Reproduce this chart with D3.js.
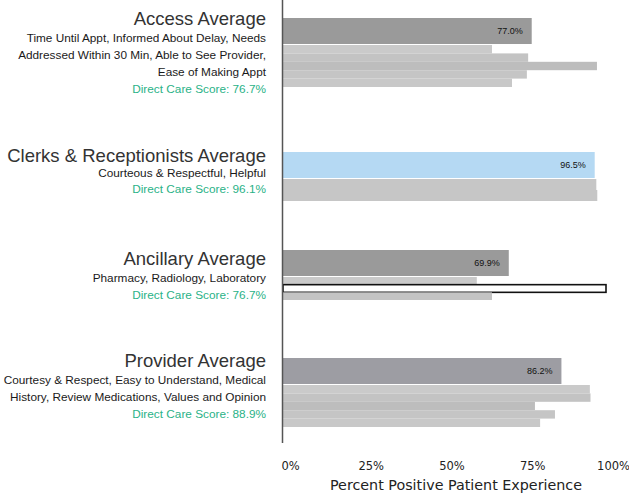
<!DOCTYPE html>
<html><head><meta charset="utf-8">
<script src="https://cdn.jsdelivr.net/npm/d3@7/dist/d3.min.js"></script>
<style>body{margin:0;background:#fff}svg{display:block}</style>
</head><body>
<svg id="c" width="629" height="493"></svg>
<script>
// ---- data ----
const categories = ["Access Average", "Clerks & Receptionists Average", "Ancillary Average", "Provider Average"];
const subtitleLines = [
  ["Time Until Appt, Informed About Delay, Needs", "Addressed Within 30 Min, Able to See Provider,", "Ease of Making Appt"],
  ["Courteous & Respectful, Helpful"],
  ["Pharmacy, Radiology, Laboratory"],
  ["Courtesy & Respect, Easy to Understand, Medical", "History, Review Medications, Values and Opinion"]
];
const directCareScores = [76.7, 96.1, 76.7, 88.9];
const averages = [77.0, 96.5, 69.9, 86.2];
const subItems = [
  ["Time Until Appt", "Informed About Delay", "Needs Addressed Within 30 Min", "Able to See Provider", "Ease of Making Appt"],
  ["Courteous & Respectful", "Helpful"],
  ["Pharmacy", "Radiology", "Laboratory"],
  ["Courtesy & Respect", "Easy to Understand", "Medical History", "Review Medications", "Values and Opinion"]
];
const subValues = [
  [64.7, 75.9, 97.2, 75.5, 70.9],
  [97.0, 97.3],
  [60.0, 100.0, 64.7],
  [95.0, 95.2, 78.0, 84.2, 79.6]
];
const outlinedItems = ["Radiology"];
const xTicks = [0, 25, 50, 75, 100];
const axisTitle = "Percent Positive Patient Experience";

// ---- layout ----
const svg = d3.select("#c");
const x = d3.scaleLinear().domain([0, 100]).range([283, 606]);
const groupTop = [18, 152, 250, 358];
const avgH = 26;
const subAreaH = [42, 22, 23, 42];
const labelRight = 266;
const titleBase = [25, 162, 265, 367];
const subBase = [42, 177, 282, 384];
const lineStep = [17, 16, 17, 17];
const FONT = "Liberation Sans, Arial, sans-serif";

categories.forEach((cat, gi) => {
  const top = groupTop[gi];
  // sub bars
  const yb = d3.scaleBand().domain(subItems[gi]).range([top + avgH + 1, top + avgH + 1 + subAreaH[gi]]);
  const greys = d3.scaleOrdinal().range(["#cacaca", "#c3c3c3", "#bdbdbd", "#c5c5c5", "#c8c8c8"]);
  svg.append("g").selectAll("rect").data(subItems[gi]).join("rect")
    .attr("x", x(0)).attr("y", d => yb(d))
    .attr("width", (d, i) => x(subValues[gi][i]) - x(0))
    .attr("height", yb.bandwidth())
    .attr("fill", d => outlinedItems.includes(d) ? "#fff" : (gi === 1 ? "#c6c6c6" : greys(d)))
    .attr("stroke", d => outlinedItems.includes(d) ? "#111" : "none")
    .attr("stroke-width", 1.6);
  // average bar
  svg.append("rect")
    .attr("x", x(0)).attr("y", top)
    .attr("width", x(averages[gi]) - x(0)).attr("height", avgH)
    .attr("fill", gi === 1 ? "#b5d9f3" : (gi === 3 ? "#9d9da3" : "#9a9a9a"));
  svg.append("text")
    .attr("x", x(averages[gi]) - 9).attr("y", top + avgH / 2 + 3)
    .attr("text-anchor", "end").attr("font-family", FONT)
    .attr("font-size", 9).attr("fill", "#111")
    .text(averages[gi].toFixed(1) + "%");

  // labels
  svg.append("text").attr("x", labelRight).attr("y", titleBase[gi])
    .attr("text-anchor", "end").attr("font-family", FONT)
    .attr("font-size", 18.5).attr("fill", "#333").text(cat);
  const lines = subtitleLines[gi];
  lines.forEach((ln, li) => {
    svg.append("text").attr("x", labelRight).attr("y", subBase[gi] + li * lineStep[gi])
      .attr("text-anchor", "end").attr("font-family", FONT)
      .attr("font-size", 11.8).attr("fill", "#1a1a1a").text(ln);
  });
  svg.append("text").attr("x", labelRight).attr("y", subBase[gi] + lines.length * lineStep[gi])
    .attr("text-anchor", "end").attr("font-family", FONT)
    .attr("font-size", 11.8).attr("fill", "#2ab287")
    .text("Direct Care Score: " + directCareScores[gi].toFixed(1) + "%");
});

// y axis line
svg.append("line").attr("x1", x(0) - 0.5).attr("x2", x(0) - 0.5).attr("y1", 0).attr("y2", 443)
  .attr("stroke", "#555").attr("stroke-width", 1.5);

// x axis tick labels
const ax = svg.append("g").attr("transform", "translate(7,462)")
  .call(d3.axisBottom(x).tickValues(xTicks).tickFormat(d => d + "%").tickSize(0).tickPadding(0));
ax.select(".domain").remove();
ax.selectAll("text").attr("font-family", "DejaVu Sans, sans-serif").attr("font-size", 11.5).attr("fill", "#222");

svg.append("text").attr("x", 456).attr("y", 490).attr("text-anchor", "middle")
  .attr("font-family", "DejaVu Sans, sans-serif").attr("font-size", 14.3).attr("fill", "#222")
  .text(axisTitle);
</script>
</body></html>
